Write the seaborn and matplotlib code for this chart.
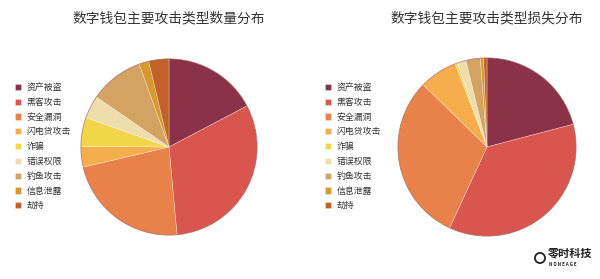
import matplotlib
matplotlib.use("Agg")
import matplotlib.pyplot as plt
import matplotlib.patches as mpatches
import seaborn as sns

categories = ["资产被盗", "黑客攻击", "安全漏洞", "闪电贷攻击", "诈骗", "错误权限", "钓鱼攻击", "信息泄露", "劫持"]
count_share = [17.3, 31.3, 22.8, 3.8, 5.3, 4.2, 9.9, 1.8, 3.7]
loss_share = [20.9, 36.0, 30.4, 6.9, 0.4, 1.6, 2.6, 0.6, 0.6]
titles = ["数字钱包主要攻击类型数量分布", "数字钱包主要攻击类型损失分布"]
hex_colors = ["#8B3148", "#D9564F", "#E8814A", "#F5AE4B", "#F1D64A",
              "#EEDDAA", "#D4A262", "#D9982C", "#C1622A"]

sns.set_theme(style="white")
plt.rcParams["font.family"] = ["Noto Sans CJK SC", "DejaVu Sans"]
palette = sns.color_palette(hex_colors)

W, H = 600, 279
fig = plt.figure(figsize=(W / 100, H / 100), dpi=100)
fig.patch.set_facecolor("white")

def px_axes(cx, cy, r):
    return fig.add_axes([(cx - r) / W, (H - cy - r) / H, 2 * r / W, 2 * r / H])

specs = [(169, 147, 89, count_share, 169, 16), (487, 147, 90, loss_share, 487, 326)]
for (cx, cy, r, vals, tx, lx), title in zip(specs, titles):
    ax = px_axes(cx, cy, r)
    wedges, _ = ax.pie(vals, colors=palette, startangle=90, counterclock=False,
                       radius=1.0,
                       wedgeprops=dict(edgecolor=(1, 1, 1, 0.5), linewidth=0.4))
    circ = plt.Circle((0, 0), 1.0, fill=False, edgecolor=(0.45, 0.15, 0.15, 0.5), linewidth=0.6)
    ax.add_patch(circ)
    ax.set_xlim(-1.01, 1.01)
    ax.set_ylim(-1.01, 1.01)
    ax.set_aspect("equal")
    ax.axis("off")
    fig.text(tx / W, 1 - 18 / H, title, ha="center", va="center",
             fontsize=9.9, color="#333333")
    fig.legend(wedges, categories, loc="upper left",
               bbox_to_anchor=((lx - 8) / W, 1 - 76 / H),
               frameon=False, fontsize=6.4, handlelength=0.7, handleheight=0.7,
               handletextpad=0.6, labelspacing=0.65, borderpad=0.3,
               labelcolor="#333333")

# watermark
fig.text(548 / W, 1 - 253 / H, "零时科技", ha="left", va="center", fontsize=8,
         color="#222222", fontweight="bold")
fig.text(549 / W, 1 - 265 / H, "N O N E A G E", ha="left", va="center",
         fontsize=3.2, color="#222222", fontweight="bold")
lax = fig.add_axes([533 / W, 1 - 265 / H, 14 / W, 14 / H])
lax.add_patch(mpatches.Circle((0.5, 0.5), 0.36, fill=False, edgecolor="#222222", linewidth=1.3))
lax.set_xlim(0, 1); lax.set_ylim(0, 1); lax.set_aspect("equal"); lax.axis("off")

fig.savefig("out.png", dpi=100, facecolor="white")
